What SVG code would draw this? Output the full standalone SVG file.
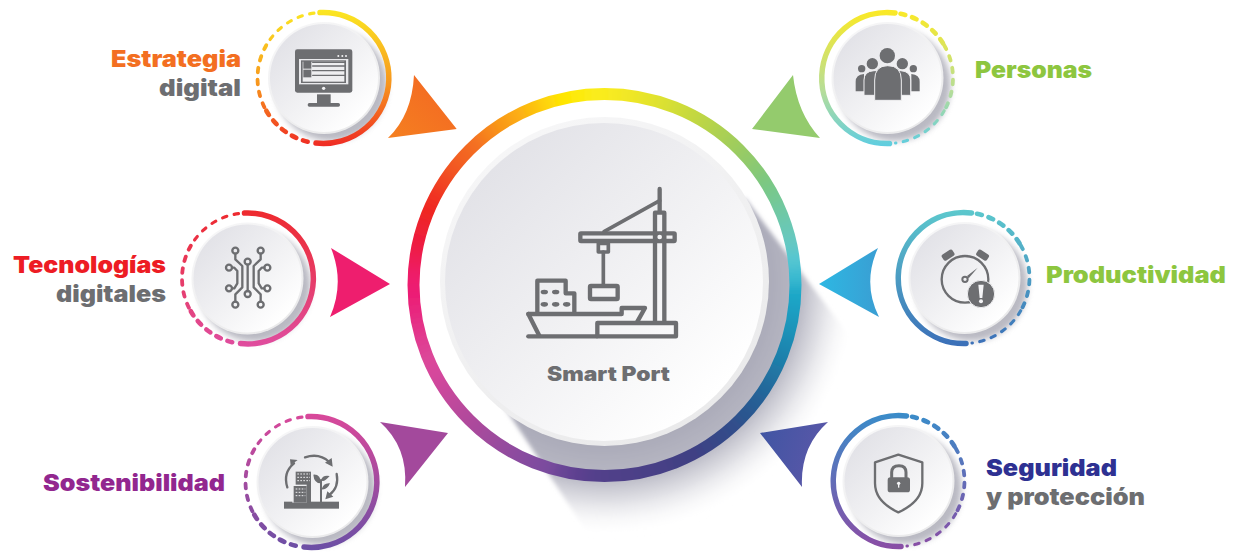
<svg xmlns="http://www.w3.org/2000/svg" width="1234" height="552" viewBox="0 0 1234 552">
<style>
.t{font-family:"Inter","Liberation Sans",sans-serif;font-weight:900;font-size:23px}
.gr{fill:#6d6e71}
.ic{fill:none;stroke:#6d6e71;stroke-linecap:round;stroke-linejoin:round}
.sol{fill:none;stroke-width:5.5;stroke-linecap:round}
.dsh{fill:none;stroke-linecap:round}
.w1{stroke-width:3.1;stroke-dasharray:4.5 7.5}
.w2{stroke-width:3.8;stroke-dasharray:4.5 7.5}
.w3{stroke-width:4.6;stroke-dasharray:5 7}
</style>
<defs>
<linearGradient id="disc" x1="0.15" y1="0.15" x2="0.85" y2="0.85"><stop offset="0" stop-color="#e3e3e8"/><stop offset="0.55" stop-color="#f2f2f4"/><stop offset="1" stop-color="#ffffff"/></linearGradient>
<linearGradient id="rim" x1="0.2" y1="0" x2="0.8" y2="1"><stop offset="0" stop-color="#f7f7f8"/><stop offset="1" stop-color="#e9e9ea"/></linearGradient>
<radialGradient id="bigShadow" gradientUnits="userSpaceOnUse" cx="604" cy="282" r="255"><stop offset="0.62" stop-color="#a9a9b7"/><stop offset="0.77" stop-color="#b8b8c4"/><stop offset="0.86" stop-color="#dadae0" stop-opacity="0.85"/><stop offset="1" stop-color="#ffffff" stop-opacity="0"/></radialGradient>
<filter id="b5" x="-20%" y="-20%" width="140%" height="140%"><feGaussianBlur stdDeviation="2"/></filter>
<filter id="b3" x="-30%" y="-30%" width="160%" height="160%"><feGaussianBlur stdDeviation="3"/></filter>
<filter id="conic" x="-20%" y="-20%" width="140%" height="140%"><feGaussianBlur stdDeviation="6"/></filter>
<mask id="ringMask" maskUnits="userSpaceOnUse" x="400" y="80" width="410" height="410"><circle cx="604.5" cy="285" r="191" fill="none" stroke="#ffffff" stroke-width="12"/></mask>
<circle id="seg" r="191" fill="none" stroke-width="44" pathLength="360" stroke-dasharray="6 354"/>
<g id="discS">
<circle cx="7" cy="7" r="56" fill="#8f8f9e" opacity="0.62" filter="url(#b3)"/>
<circle r="56" fill="url(#rim)"/>
<circle r="54" fill="url(#disc)"/>
</g>
<g id="ringL">
<path class="sol" d="M-3 -65.4A65.5 65.5 0 1 1 -7 65.1"/>
<path class="dsh w1" d="M-9 -64.9A65.5 65.5 0 0 0 -56.7 -32.75"/>
<path class="dsh w2" d="M-56.7 -32.75A65.5 65.5 0 0 0 -56.7 32.75"/>
<path class="dsh w3" d="M-56.7 32.75A65.5 65.5 0 0 0 -13 64.2"/>
</g>
<g id="ringR">
<path class="sol" d="M7.5 -65A65.5 65.5 0 1 0 2 65.5"/>
<path class="dsh w3" d="M13 -64.2A65.5 65.5 0 0 1 56.7 -32.75"/>
<path class="dsh w2" d="M56.7 -32.75A65.5 65.5 0 0 1 56.7 32.75"/>
<path class="dsh w1" d="M56.7 32.75A65.5 65.5 0 0 1 8 65"/>
</g>
<linearGradient id="g1" gradientUnits="userSpaceOnUse" x1="0" y1="-68" x2="0" y2="68"><stop offset="0" stop-color="#fbe722"/><stop offset="0.55" stop-color="#f7941d"/><stop offset="1" stop-color="#ef2b24"/></linearGradient>
<linearGradient id="g2" gradientUnits="userSpaceOnUse" x1="0" y1="-68" x2="0" y2="68"><stop offset="0" stop-color="#ee2a2e"/><stop offset="1" stop-color="#df4d9f"/></linearGradient>
<linearGradient id="g3" gradientUnits="userSpaceOnUse" x1="0" y1="-68" x2="0" y2="68"><stop offset="0" stop-color="#d9489a"/><stop offset="1" stop-color="#6b4fa5"/></linearGradient>
<linearGradient id="g4" gradientUnits="userSpaceOnUse" x1="0" y1="-68" x2="0" y2="68"><stop offset="0" stop-color="#fbe925"/><stop offset="0.6" stop-color="#b5dd9a"/><stop offset="1" stop-color="#5fcde0"/></linearGradient>
<linearGradient id="g5" gradientUnits="userSpaceOnUse" x1="0" y1="-68" x2="0" y2="68"><stop offset="0" stop-color="#5cc8cd"/><stop offset="1" stop-color="#3b6fb8"/></linearGradient>
<linearGradient id="g6" gradientUnits="userSpaceOnUse" x1="0" y1="-68" x2="0" y2="68"><stop offset="0" stop-color="#3a8cc9"/><stop offset="1" stop-color="#8a4da5"/></linearGradient>
<linearGradient id="tOr" x1="0" y1="1" x2="1" y2="0"><stop offset="0" stop-color="#f58020"/><stop offset="1" stop-color="#f36523"/></linearGradient>
<linearGradient id="tCy" x1="0" y1="0" x2="1" y2="0"><stop offset="0" stop-color="#2db8e3"/><stop offset="1" stop-color="#3a9ed3"/></linearGradient>
<linearGradient id="tBl" x1="0" y1="0" x2="1" y2="0.3"><stop offset="0" stop-color="#3f55a3"/><stop offset="1" stop-color="#5a57a8"/></linearGradient>
</defs>

<rect width="1234" height="552" fill="#ffffff"/>

<g id="smart-port">
<path fill="url(#bigShadow)" filter="url(#b5)" d="M745 198L860 350L860 470L750 552L600 552L505 408Z"/>
<g mask="url(#ringMask)">
<g transform="translate(604.5 285) rotate(-90)" filter="url(#conic)">
<use href="#seg" transform="rotate(0)" stroke="#f6ea22"/><use href="#seg" transform="rotate(5)" stroke="#f0e726"/><use href="#seg" transform="rotate(10)" stroke="#e6e42c"/><use href="#seg" transform="rotate(15)" stroke="#dce132"/><use href="#seg" transform="rotate(20)" stroke="#d0dd38"/><use href="#seg" transform="rotate(25)" stroke="#c4d83f"/><use href="#seg" transform="rotate(30)" stroke="#b8d448"/><use href="#seg" transform="rotate(35)" stroke="#acd052"/><use href="#seg" transform="rotate(40)" stroke="#a0cd5c"/><use href="#seg" transform="rotate(45)" stroke="#94ca68"/><use href="#seg" transform="rotate(50)" stroke="#88c975"/><use href="#seg" transform="rotate(55)" stroke="#7cc882"/><use href="#seg" transform="rotate(60)" stroke="#76c892"/><use href="#seg" transform="rotate(65)" stroke="#70c8a4"/><use href="#seg" transform="rotate(70)" stroke="#6bc8b4"/><use href="#seg" transform="rotate(75)" stroke="#65c8c3"/><use href="#seg" transform="rotate(80)" stroke="#55c6d2"/><use href="#seg" transform="rotate(85)" stroke="#3bbad0"/><use href="#seg" transform="rotate(90)" stroke="#1fa8c8"/><use href="#seg" transform="rotate(95)" stroke="#1a9fc2"/><use href="#seg" transform="rotate(100)" stroke="#1a95ba"/><use href="#seg" transform="rotate(105)" stroke="#1c8ab3"/><use href="#seg" transform="rotate(110)" stroke="#1e80ab"/><use href="#seg" transform="rotate(115)" stroke="#2174a3"/><use href="#seg" transform="rotate(120)" stroke="#24699b"/><use href="#seg" transform="rotate(125)" stroke="#285f95"/><use href="#seg" transform="rotate(130)" stroke="#2c568f"/><use href="#seg" transform="rotate(135)" stroke="#304e8b"/><use href="#seg" transform="rotate(140)" stroke="#354888"/><use href="#seg" transform="rotate(145)" stroke="#3a4486"/><use href="#seg" transform="rotate(150)" stroke="#3f4184"/><use href="#seg" transform="rotate(155)" stroke="#434084"/><use href="#seg" transform="rotate(160)" stroke="#474086"/><use href="#seg" transform="rotate(165)" stroke="#4a4087"/><use href="#seg" transform="rotate(170)" stroke="#4d4088"/><use href="#seg" transform="rotate(175)" stroke="#503f89"/><use href="#seg" transform="rotate(180)" stroke="#53408b"/><use href="#seg" transform="rotate(185)" stroke="#5c418f"/><use href="#seg" transform="rotate(190)" stroke="#684495"/><use href="#seg" transform="rotate(195)" stroke="#7a4b9e"/><use href="#seg" transform="rotate(200)" stroke="#824c9f"/><use href="#seg" transform="rotate(205)" stroke="#8c4c9f"/><use href="#seg" transform="rotate(210)" stroke="#964b9e"/><use href="#seg" transform="rotate(215)" stroke="#a04b9d"/><use href="#seg" transform="rotate(220)" stroke="#aa4a9c"/><use href="#seg" transform="rotate(225)" stroke="#b5499c"/><use href="#seg" transform="rotate(230)" stroke="#c0489c"/><use href="#seg" transform="rotate(235)" stroke="#cb479c"/><use href="#seg" transform="rotate(240)" stroke="#d6479c"/><use href="#seg" transform="rotate(245)" stroke="#dc4699"/><use href="#seg" transform="rotate(250)" stroke="#e03c92"/><use href="#seg" transform="rotate(255)" stroke="#e43088"/><use href="#seg" transform="rotate(260)" stroke="#e8267e"/><use href="#seg" transform="rotate(265)" stroke="#ec1f74"/><use href="#seg" transform="rotate(270)" stroke="#ee1e6a"/><use href="#seg" transform="rotate(275)" stroke="#ee1e55"/><use href="#seg" transform="rotate(280)" stroke="#ee1f40"/><use href="#seg" transform="rotate(285)" stroke="#ee2030"/><use href="#seg" transform="rotate(290)" stroke="#ef2524"/><use href="#seg" transform="rotate(295)" stroke="#f03323"/><use href="#seg" transform="rotate(300)" stroke="#f14522"/><use href="#seg" transform="rotate(305)" stroke="#f25621"/><use href="#seg" transform="rotate(310)" stroke="#f36320"/><use href="#seg" transform="rotate(315)" stroke="#f46f20"/><use href="#seg" transform="rotate(320)" stroke="#f7851c"/><use href="#seg" transform="rotate(325)" stroke="#f99a19"/><use href="#seg" transform="rotate(330)" stroke="#fcab16"/><use href="#seg" transform="rotate(335)" stroke="#fdbf10"/><use href="#seg" transform="rotate(340)" stroke="#fed508"/><use href="#seg" transform="rotate(345)" stroke="#ffe604"/><use href="#seg" transform="rotate(350)" stroke="#fdeb10"/><use href="#seg" transform="rotate(355)" stroke="#faec1a"/>
</g>
</g>
<circle cx="604.5" cy="281.500" r="164.500" fill="url(#rim)"/>
<circle cx="604" cy="282" r="159" fill="url(#disc)"/>
<g transform="translate(400 80) scale(.33333)">
<g class="ic" stroke-width="13">
<path d="M765 725V398H793V725"/>
<path d="M779 327V395"/>
<rect x="541" y="460" width="283" height="23" rx="2"/>
<path d="M612 455L779 362" stroke-width="11"/>
<rect x="595" y="490" width="30" height="26" stroke-width="11"/>
<path d="M610 516V615" stroke-width="11"/>
<rect x="570" y="618" width="83" height="39" rx="3"/>
<path d="M412 695V602H497V640H523V695"/>
<path d="M385 702H665V684H735L712 725"/>
<path d="M385 702L418 767"/>
<path d="M385 769H590"/>
<rect x="592" y="729" width="236" height="40"/>
</g>
<circle cx="779" cy="471" r="11" fill="#f4f4f6" stroke="#6d6e71" stroke-width="8"/>
<g class="gr"><ellipse cx="433" cy="636" rx="11" ry="7"/><ellipse cx="467" cy="636" rx="11" ry="7"/><ellipse cx="433" cy="673" rx="11" ry="7"/><ellipse cx="467" cy="673" rx="11" ry="7"/><ellipse cx="500" cy="673" rx="11" ry="7"/></g>
</g>
<text class="t" x="547" y="381" style="font-size:20px" textLength="123" lengthAdjust="spacingAndGlyphs" fill="#6d6e71">Smart Port</text>
</g>

<g id="connectors">
<path fill="url(#tOr)" d="M414 75L456.700 129L388 138Q412 115 414 75Z"/>
<path fill="#94cb6d" d="M793 75L752 129L820 138Q797 113 793 75Z"/>
<path fill="#ee1e6e" d="M331 248L390 284L330 317Q345 283 331 248Z"/>
<path fill="url(#tCy)" d="M819 284L878 248Q862 283 879 317Z"/>
<path fill="#a3499c" d="M380 422L448 433L405 487Q408 447 380 422Z"/>
<path fill="url(#tBl)" d="M760 433L828 422Q800 447 802 487Z"/>
</g>

<g id="estrategia-digital">
<g transform="translate(323 78)"><use href="#discS" x="1"/><use href="#ringL" stroke="url(#g1)"/></g>
<g transform="translate(100 0) scale(.33333)">
<rect class="gr" x="585" y="148" width="172" height="130" rx="7"/>
<rect x="597" y="177" width="148" height="76" fill="#e9e9ec"/>
<rect x="603" y="181" width="135" height="68" fill="#6d6e71"/>
<rect x="608" y="185" width="125" height="60" fill="#eeeef0"/>
<rect class="gr" x="610" y="183" width="24" height="23"/><rect class="gr" x="610" y="209" width="24" height="23"/>
<path class="ic" stroke-width="4" d="M638 187H735M638 198H735M638 212H735M638 226H735" stroke-linecap="butt"/>
<g fill="#f2f2f4"><circle cx="715" cy="168" r="3"/><circle cx="727" cy="168" r="3"/><circle cx="738" cy="168" r="3"/><circle cx="671" cy="265" r="5"/></g>
<rect class="gr" x="651" y="283" width="41" height="28"/><rect class="gr" x="623" y="309" width="97" height="11" rx="5"/>
</g>
<text class="t" x="111" y="66.500" textLength="130" lengthAdjust="spacingAndGlyphs" fill="#f36f21">Estrategia</text>
<text class="t" x="159" y="96" textLength="82" lengthAdjust="spacingAndGlyphs" fill="#6d6e71">digital</text>
</g>

<g id="tecnologias-digitales">
<g transform="translate(247.5 278.5)"><use href="#discS"/><use href="#ringL" stroke="url(#g2)"/></g>
<g transform="translate(0 200) scale(.33333)" class="ic" stroke-width="7">
<circle cx="706" cy="152" r="9"/><circle cx="782" cy="152" r="9"/><circle cx="743" cy="185" r="9"/><circle cx="687" cy="203" r="9"/><circle cx="802" cy="203" r="9"/><circle cx="687" cy="265" r="9"/><circle cx="802" cy="265" r="9"/><circle cx="743" cy="282" r="9"/><circle cx="706" cy="314" r="9"/><circle cx="782" cy="314" r="9"/>
<path d="M743 194V273M706 161V178L727 198V262L706 283V305M782 161V178L761 198V262L782 283V305M696 203H703L712 213V250L703 265H696M793 203H785L776 213V250L785 265H793"/>
</g>
<text class="t" x="13" y="272.700" textLength="153" lengthAdjust="spacingAndGlyphs" fill="#ed1c24">Tecnologías</text>
<text class="t" x="56" y="301.700" textLength="110" lengthAdjust="spacingAndGlyphs" fill="#6d6e71">digitales</text>
</g>

<g id="sostenibilidad">
<g transform="translate(311 482)"><use href="#discS" x="1.500"/><use href="#ringL" stroke="url(#g3)"/></g>
<g transform="translate(30 400) scale(.33333)">
<rect class="gr" x="762" y="305" width="165" height="21"/>
<rect class="gr" x="797" y="215" width="46" height="92"/>
<rect x="787" y="254" width="43" height="54" fill="#eeeef0"/>
<rect class="gr" x="791" y="258" width="39" height="50"/>
<path fill="none" stroke="#eeeef0" stroke-width="3" stroke-dasharray="5 4" d="M802 222H840M802 232H840M802 242H840M797 267H826M797 277H826M797 287H826"/>
<path class="ic" stroke-width="6" d="M873 305V240"/>
<path class="gr" d="M850 224Q872 222 873 250Q852 250 850 224ZM899 228Q878 224 873 240Q880 250 899 228ZM900 250Q880 248 875 268Q892 270 900 250Z"/>
<path class="ic" stroke-width="7" stroke-linecap="butt" d="M825 172Q868 158 898 186M772 262Q758 218 792 190M920 222Q928 262 898 285"/>
<path class="gr" d="M908 200L885 188L905 174ZM803 180L782 196L780 178ZM886 298L892 274L910 290Z"/>
</g>
<text class="t" x="43" y="490.700" textLength="182" lengthAdjust="spacingAndGlyphs" fill="#92278f">Sostenibilidad</text>
</g>

<g id="personas">
<g transform="translate(887.5 78)"><use href="#discS"/><use href="#ringR" stroke="url(#g4)"/></g>
<g transform="translate(740 0) scale(.33333)" class="gr">
<circle cx="365" cy="206" r="11"/><circle cx="520" cy="206" r="11"/>
<path d="M347 274V245Q347 224 372 222V274ZM539 274V245Q539 224 514 222V274Z"/>
<circle cx="397" cy="191" r="17"/><circle cx="487" cy="191" r="17"/>
<path stroke="#efeff1" stroke-width="3" d="M372 286V240Q372 214 402 212H482Q512 214 512 240V286Z"/>
<circle cx="442" cy="167" r="23"/>
<path stroke="#efeff1" stroke-width="3" d="M404 301V240Q404 197 443 197Q484 197 484 240V301Z"/>
</g>
<text class="t" x="975" y="77.500" textLength="117" lengthAdjust="spacingAndGlyphs" fill="#8dc63f">Personas</text>
</g>

<g id="productividad">
<g transform="translate(964 278)"><use href="#discS" x="0.500"/><use href="#ringR" stroke="url(#g5)"/></g>
<g transform="translate(810 200) scale(.33333)">
<circle class="ic" cx="465" cy="238" r="70" stroke-width="7"/>
<rect class="gr" x="395" y="155" width="38" height="21" rx="6" transform="rotate(-33 414 165)"/>
<rect class="gr" x="499" y="155" width="38" height="21" rx="6" transform="rotate(33 518 165)"/>
<circle class="ic" cx="465" cy="238" r="8" stroke-width="6"/>
<path class="gr" d="M471 228L503 203L476 235Z"/>
<circle class="gr" cx="513" cy="282" r="41" stroke="#f0f0f2" stroke-width="3"/>
<path fill="#f4f4f6" d="M505 254H521L517 294H509Z"/><circle cx="513" cy="304" r="6" fill="#f4f4f6"/>
</g>
<text class="t" x="1046" y="283" textLength="180" lengthAdjust="spacingAndGlyphs" fill="#8dc63f">Productividad</text>
</g>

<g id="seguridad-proteccion">
<g transform="translate(899 481)"><use href="#discS" x="-0.500"/><use href="#ringR" stroke="url(#g6)"/></g>
<g transform="translate(750 400) scale(.33333)">
<path class="ic" stroke-width="7" d="M445 164L517 187V250Q517 305 445 337Q375 305 375 250V187Z"/>
<rect class="gr" x="413" y="232" width="67" height="45" rx="8"/>
<path class="ic" stroke-width="9" d="M425 232V217Q425 197 447 197Q468 197 468 217V232"/>
<circle cx="446" cy="250" r="5" fill="#f4f4f6"/><rect x="444" y="250" width="4" height="13" fill="#f4f4f6"/>
</g>
<text class="t" x="986" y="476" textLength="131" lengthAdjust="spacingAndGlyphs" fill="#2e3192">Seguridad</text>
<text class="t" x="986" y="505" textLength="159" lengthAdjust="spacingAndGlyphs" fill="#6d6e71">y protección</text>
</g>
</svg>
